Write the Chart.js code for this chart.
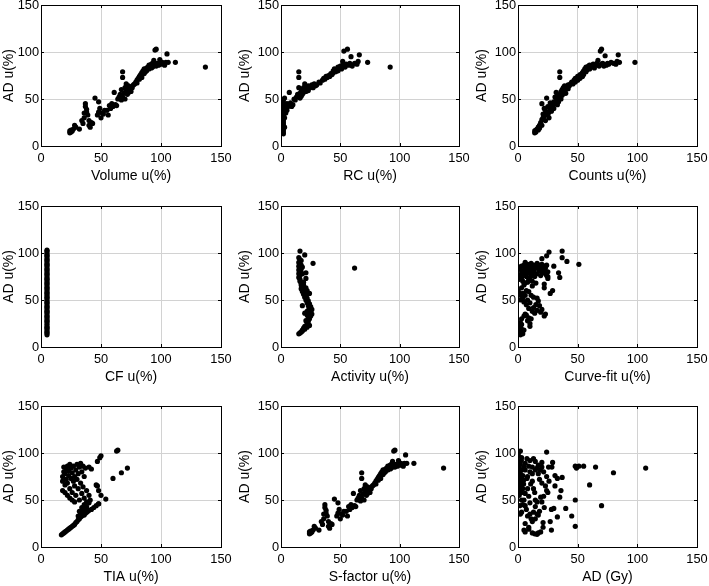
<!DOCTYPE html>
<html><head><meta charset="utf-8">
<script src="https://cdn.jsdelivr.net/npm/chart.js@4/dist/chart.umd.min.js"></script>
<style>
html,body{margin:0;padding:0;background:#fff;width:709px;height:586px;overflow:hidden;position:relative}
canvas{position:absolute}
</style></head><body>
<script>
const tickValues = [0, 50, 100, 150];
const yTitle = 'AD u(%)';
const xTitles = ['Volume u(%)','RC u(%)','Counts u(%)','CF u(%)','Activity u(%)','Curve-fit u(%)','TIA u(%)','S-factor u(%)','AD (Gy)'];

const volumePts = [[24,14],[24,16],[25,15],[25,17],[26,16],[27,18],[28,22],[29,20],[32,18],[34,27],[35,24],[36,30],[36,35],[37,45],[37,42],[38,39],[38,36],[39,33],[40,27],[40,22],[41,20],[42,25],[43,24],[45,51],[47,33],[48,47],[48,36],[49,40],[50,30],[51,35],[52,34],[53,38],[55,38],[56,33],[57,43],[58,40],[59,45],[60,42],[61,57],[62,44],[63,43],[64,50],[65,52],[66,55],[67,49],[67,60],[68,79],[68,73],[68,52],[69,56],[70,50],[70,62],[71,58],[71,66],[72,55],[72,60],[73,57],[73,64],[74,60],[75,63],[75,58],[76,62],[77,65],[78,66],[79,68],[80,70],[80,67],[81,72],[82,71],[82,74],[83,76],[84,73],[84,78],[85,80],[86,77],[86,82],[87,79],[88,83],[88,80],[89,84],[90,82],[90,86],[91,85],[92,83],[92,87],[93,88],[93,84],[94,91],[95,86],[95,102],[96,103],[96,85],[97,88],[98,86],[99,92],[100,87],[101,89],[102,88],[103,86],[104,89],[105,98],[106,89],[112,89],[137,84]];

const rcPts = [[2,13],[2,15],[2,17],[2,19],[2,21],[2,23],[2,25],[2,27],[2,29],[2,31],[2,33],[2,35],[2,37],[2,40],[2,43],[2,46],[2,49],[1,28],[1,36],[3,20],[3,30],[3,38],[3,44],[3,51],[1,42],[4,35],[4,40],[5,45],[5,38],[6,42],[7,44],[7,57],[8,46],[9,42],[10,44],[11,50],[12,49],[13,52],[14,55],[15,62],[15,79],[15,73],[16,51],[16,56],[17,58],[17,53],[18,60],[18,55],[19,57],[19,62],[20,60],[20,66],[21,58],[21,63],[22,61],[23,64],[23,59],[24,62],[25,63],[26,65],[27,62],[28,66],[29,64],[30,65],[32,68],[33,67],[35,70],[36,72],[37,71],[38,74],[39,73],[40,75],[41,74],[42,77],[43,76],[44,80],[44,78],[45,82],[46,79],[47,81],[48,84],[48,80],[49,83],[50,85],[51,82],[52,86],[52,90],[53,101],[54,84],[55,87],[56,103],[57,86],[58,88],[59,95],[60,85],[62,88],[64,87],[65,90],[66,97],[73,89],[92,84]];

const countsPts = [[14,14],[14,16],[15,15],[15,17],[16,18],[17,20],[17,17],[18,22],[18,19],[19,25],[20,28],[20,22],[21,34],[21,30],[20,45],[22,40],[22,32],[23,38],[23,27],[24,51],[24,35],[25,33],[25,42],[26,36],[26,30],[27,40],[27,46],[28,42],[28,37],[29,44],[30,40],[30,47],[31,52],[31,45],[32,57],[32,48],[33,50],[33,44],[34,53],[34,47],[35,79],[35,73],[35,55],[36,50],[36,58],[37,54],[37,60],[38,56],[38,62],[39,58],[39,64],[40,60],[40,56],[41,63],[42,61],[42,65],[43,64],[44,66],[45,68],[46,66],[47,70],[48,68],[48,72],[49,71],[50,74],[50,70],[51,73],[52,76],[52,72],[53,75],[54,78],[54,74],[55,80],[55,76],[56,82],[57,79],[57,84],[58,81],[59,85],[60,82],[60,86],[61,84],[62,85],[63,87],[64,83],[65,86],[66,88],[67,91],[68,85],[69,101],[70,103],[70,87],[71,88],[72,85],[73,96],[74,86],[75,88],[76,87],[78,89],[80,88],[82,87],[83,90],[84,97],[85,89],[98,89]];

const cfX = 5;
const cfY = [13,15,16,18,20,21,23,25,27,28,30,32,33,35,37,38,40,42,43,45,47,48,50,52,53,55,57,58,60,62,63,65,67,68,70,72,73,75,77,78,80,82,83,85,87,88,90,92,93,95,97,98,100,102,103];

const activityPts = [[16,102],[20,98],[27,89],[21,79],[21,73],[62,84],[15,95],[16,93],[17,92],[15,90],[16,88],[15,86],[16,84],[15,82],[16,80],[15,78],[16,76],[15,74],[16,72],[16,70],[17,68],[17,66],[18,64],[17,62],[19,61],[18,59],[20,58],[19,56],[21,55],[20,53],[22,52],[21,50],[23,49],[22,47],[24,46],[23,44],[25,43],[24,41],[26,40],[23,39],[25,38],[24,36],[26,35],[22,34],[25,33],[23,31],[24,30],[21,28],[23,27],[22,25],[24,23],[20,22],[19,20],[18,18],[17,16],[16,15],[15,14],[18,17],[20,19],[22,21],[17,87],[18,85],[17,83],[18,78],[19,69],[19,66],[21,63],[22,60],[24,57],[18,44],[22,38],[20,36]];

const curveFitPts = [[1,85],[2,83],[3,86],[4,80],[5,87],[5,78],[6,84],[7,82],[7,75],[8,88],[8,79],[9,85],[9,72],[10,86],[10,81],[11,77],[11,89],[12,84],[12,70],[13,87],[13,80],[14,75],[14,83],[15,86],[15,68],[16,89],[16,78],[17,84],[18,87],[18,81],[19,76],[19,85],[20,88],[20,80],[21,84],[22,82],[22,86],[23,78],[23,84],[24,87],[25,80],[25,75],[3,74],[4,70],[6,68],[2,77],[1,72],[5,66],[8,69],[10,74],[12,76],[3,81],[6,90],[37,102],[37,95],[41,91],[51,88],[26,101],[24,97],[20,94],[30,86],[34,79],[35,74],[29,60],[27,57],[25,73],[24,76],[23,35],[22,33],[22,63],[22,67],[0,60],[1,58],[2,55],[2,50],[3,63],[4,52],[4,57],[5,48],[6,55],[7,60],[7,45],[8,50],[9,41],[9,59],[10,47],[11,55],[12,65],[12,38],[13,42],[13,53],[14,36],[15,45],[16,52],[16,39],[17,49],[18,44],[19,37],[20,40],[1,17],[2,15],[2,21],[2,13],[3,19],[3,24],[4,17],[3,30],[5,33],[6,35],[7,34],[8,28],[9,31],[10,25],[10,22],[11,30],[4,14],[2,26],[5,18]];

const tiaPts = [[17,13],[18,14],[19,15],[20,16],[21,17],[22,18],[23,19],[24,20],[25,21],[26,22],[27,23],[28,24],[29,26],[30,27],[31,29],[32,30],[33,32],[34,33],[35,35],[36,34],[37,36],[38,37],[39,38],[40,39],[42,40],[44,42],[46,44],[48,46],[31,33],[33,36],[35,40],[34,42],[37,41],[36,45],[38,43],[40,47],[32,38],[18,60],[18,70],[18,75],[19,80],[19,85],[20,78],[20,66],[21,72],[21,83],[22,86],[22,68],[23,76],[23,81],[24,88],[24,62],[25,73],[25,84],[26,79],[26,58],[27,86],[27,70],[28,75],[28,65],[29,82],[29,55],[30,88],[30,72],[31,78],[31,62],[32,85],[32,50],[33,89],[33,68],[34,80],[34,57],[35,86],[35,64],[36,75],[36,52],[37,84],[38,60],[38,48],[40,85],[40,55],[42,83],[41,50],[26,50],[28,48],[24,52],[22,55],[20,58],[63,102],[64,103],[47,91],[49,95],[50,97],[60,73],[67,79],[72,84],[47,65],[48,60],[50,55],[54,51],[48,46],[46,66]];

const sFactorPts = volumePts;

const adGyPts = [[0.5,97],[2,102],[24,101],[29,90],[48,86],[49,84],[51,86],[55,86],[65,85],[80,79],[107,84],[60,66],[70,44],[48,50],[48,22],[45,33],[40,41],[37,74],[31,76],[33,73],[31,65],[35,53],[36,60],[33,32],[28,40],[30,41],[28,18],[27,27],[21,26],[21,21],[19,16],[16,13.5],[17,15],[6,16],[5,18],[9,21],[12,27],[3,37],[2,35],[6,44],[10,47],[13,37],[14.5,30],[17,34],[14.5,43],[20,48],[19,53],[21.5,54],[24,60],[2,60],[3,64],[0.5,75],[3,82],[6,89],[7.5,94],[13,94],[14.5,91],[17,87],[20,85],[17,78],[12,78],[7.5,73],[10.6,67],[13,62],[14.5,50],[6,57],[9,54],[3,50],[1.4,44],[4.7,67],[6,82],[9,86],[1,87],[2.8,92],[4.7,71],[10,80],[14.5,82],[18.7,82],[21.5,80],[25.6,85],[28.4,85],[0,62],[1,65],[0,70],[1,74],[2,78],[0,80],[1,84],[2,88],[3,72],[4,76],[2,68],[3,58],[1,55],[4,62],[5,85],[0,90],[3,95],[5,50],[4,45],[7,40],[8,33],[10,35],[11,30],[6,25],[9,19],[12,15],[14,14],[16,35],[18,38],[22,42],[25,58],[26,70],[23,65],[20,68],[18,72],[12,70],[14,58],[16,48],[8,62],[10,92],[12,85],[16,84],[24,75],[20,90],[8,75]];

const panelPts = [volumePts, rcPts, countsPts, cfY.map(y => [cfX, y]), activityPts, curveFitPts, tiaPts, sFactorPts, adGyPts];

// layout (pixel geometry of plot areas)
const colL = [41, 281, 518], colR = [221, 459, 697];
const rowT = [5, 206, 406], rowB = [146, 347, 547];
const yAxisW = [41, 45, 45];
const padTop = 10, padRight = 14, xAxisH = 40;
const FONT = "'Liberation Sans', Arial, Helvetica, sans-serif";

const framePlugin = {
  id: 'frame',
  afterDraw(c) {
    const {ctx, chartArea: a, scales: {x, y}} = c;
    ctx.save();
    ctx.strokeStyle = '#000';
    ctx.lineWidth = 1;
    ctx.beginPath();
    tickValues.forEach(v => {
      const px = Math.round(x.getPixelForValue(v)) + 0.5;
      ctx.moveTo(px, a.bottom); ctx.lineTo(px, a.bottom - 3);
      ctx.moveTo(px, a.top); ctx.lineTo(px, a.top + 3);
      const py = Math.round(y.getPixelForValue(v)) + 0.5;
      ctx.moveTo(a.left, py); ctx.lineTo(a.left + 3, py);
      ctx.moveTo(a.right, py); ctx.lineTo(a.right - 3, py);
    });
    ctx.stroke();
    ctx.strokeRect(Math.round(a.left) + 0.5, Math.round(a.top) + 0.5, Math.round(a.right - a.left), Math.round(a.bottom - a.top));
    ctx.restore();
  }
};

for (let i = 0; i < 9; i++) {
  const r = Math.floor(i / 3), col = i % 3;
  const yw = yAxisW[col];
  const W = (colR[col] - colL[col]) + yw + padRight;
  const H = (rowB[r] - rowT[r]) + padTop + xAxisH;
  const cv = document.createElement('canvas');
  cv.width = W; cv.height = H;
  cv.style.width = W + 'px'; cv.style.height = H + 'px';
  cv.style.left = (colL[col] - yw) + 'px';
  cv.style.top = (rowT[r] - padTop) + 'px';
  document.body.appendChild(cv);
  const tickCfg = {padding: 5, color: '#000', font: {family: FONT, size: 12.8}, maxRotation: 0, autoSkip: false};
  new Chart(cv, {
    type: 'scatter',
    data: {datasets: [{data: panelPts[i].map(p => ({x: p[0], y: p[1]})), backgroundColor: '#000', borderWidth: 0, pointRadius: 2.6}]},
    options: {
      animation: false, responsive: false, devicePixelRatio: 1, events: [],
      layout: {padding: {left: 0, top: padTop, right: padRight, bottom: 0}},
      plugins: {legend: {display: false}, tooltip: {enabled: false}},
      scales: {
        x: {
          type: 'linear', min: 0, max: 150,
          afterBuildTicks: s => { s.ticks = tickValues.map(v => ({value: v})); },
          grid: {color: '#d2d2d2', drawTicks: false, lineWidth: 1},
          border: {display: false},
          ticks: Object.assign({}, tickCfg, {padding: 5}),
          title: {display: true, text: xTitles[i], color: '#000', font: {family: FONT, size: 14}, padding: {top: 0, bottom: 1}},
          afterFit: s => { s.height = xAxisH; s.paddingLeft = 0; s.paddingRight = 0; }
        },
        y: {
          type: 'linear', min: 0, max: 150,
          afterBuildTicks: s => { s.ticks = tickValues.map(v => ({value: v})); },
          grid: {color: '#d2d2d2', drawTicks: false, lineWidth: 1},
          border: {display: false},
          ticks: Object.assign({}, tickCfg, {padding: 2}),
          title: {display: true, text: yTitle, color: '#000', font: {family: FONT, size: 14}, padding: {top: 1, bottom: 0}},
          afterFit: s => { s.width = yw; s.paddingTop = 0; s.paddingBottom = 0; }
        }
      }
    },
    plugins: [framePlugin]
  });
}
</script>
</body></html>
